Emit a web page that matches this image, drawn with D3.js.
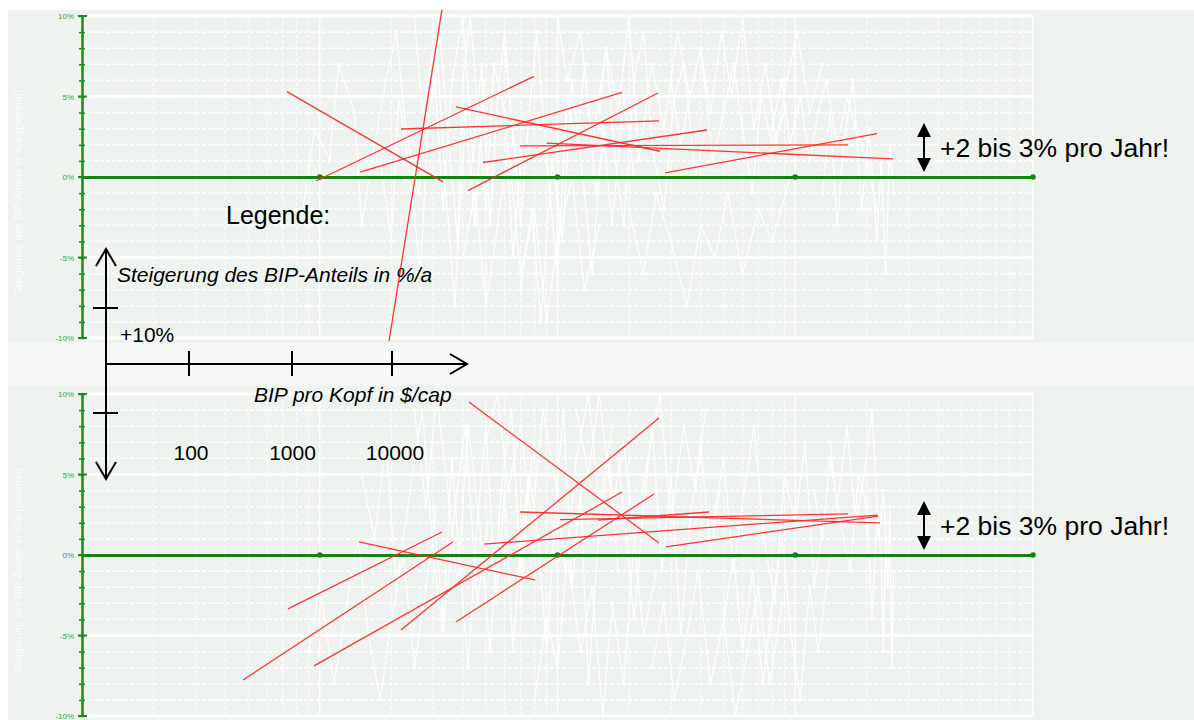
<!DOCTYPE html>
<html><head><meta charset="utf-8">
<script src="https://cdn.jsdelivr.net/npm/d3@7"></script>
<style>body{margin:0;background:#fff;} svg{display:block;font-family:Arial,"Liberation Sans",sans-serif;}</style>
</head><body><svg id="c" width="1194" height="720"></svg>
<script>
// ---------- data ----------
const xDecades = [10, 100, 1000, 10000, 100000];
const yTickValues = [-10, -5, 0, 5, 10];
const yTickLabels = ["-10%", "-5%", "0%", "5%", "10%"];
const axisTitle = "Steigerung des BIP-Anteils in %/a (gleitend)";

// red trend lines: [x1 ($/cap), y1 (%/a), x2, y2]
const topTrends = [
  [72.8, 5.3, 330, -0.3],
  [326.7, 10.4, 195.6, -10.2],
  [96.4, -0.25, 796, 6.25],
  [148, 0.3, 1868, 5.25],
  [219.7, 2.98, 2673, 3.48],
  [374, 4.35, 2698, 1.6],
  [420, -0.85, 2648, 5.22],
  [486, 0.9, 4254, 2.92],
  [695, 1.93, 16670, 2.0],
  [900, 2.1, 25780, 1.12],
  [2833, 0.25, 22070, 2.7]
];
const bottomTrends = [
  [424, 9.5, 2673, 0.75],
  [47.6, -7.76, 363, 0.81],
  [73.5, -3.35, 326.7, 1.43],
  [94.6, -6.89, 1868, 3.91],
  [146, 0.81, 804, -1.55],
  [219.7, -4.66, 2673, 8.51],
  [374, -4.16, 2546, 3.79],
  [491, 0.68, 22290, 2.48],
  [695, 2.67, 22740, 1.99],
  [1025, 2.2, 16670, 2.55],
  [1480, 2.17, 4336, 2.67],
  [2860, 0.5, 22290, 2.42]
];

// faint white yearly series (x in $/cap, y in %/a)
const topSeriesX = [
  [85,95,110,120,140,150,170,190,210,230,260,290],
  [300,320,350,380,400,430,470,500,540,600,650,700],
  [600,650,700,760,820,900,1000,1100,1200,1300,1450,1600],
  [1500,1600,1750,1900,2100,2300,2500,2800,3100,3400,3800,4200],
  [3000,3300,3600,4000,4500,5000,5500,6000,6600,7200,8000,9000],
  [8000,8800,9500,10500,11500,12500,13500,15000,16500,18000,20000,22000],
  [400,450,500,560,620,700,800,900,1000,1150,1300,1500],
  [2000,2300,2600,3000,3500,4000,4600,5200,6000,7000,8000,9500],
  [250,270,300,330,360,400,440,480,520,560,600,650],
  [180,200,215,240,265,285,310,340,370,410,450,490],
  [700,780,850,950,1050,1150,1300,1400,1550,1700,1900,2100],
  [4000,4400,4900,5400,6000,6700,7500,8300,9200,10200,11500,13000],
  [13000,14000,15000,16000,17500,19000,20500,22000,23000,24000,25000,26000],
  [1000,1100,1250,1400,1600,1800,2000,2200,2500,2800,3200,3600]
];
const topSeriesY = [
  [-2,3,1,7,4,-3,2,6,9,3,-1,4],
  [5,9,2,-4,6,10,3,-2,7,4,-5,1],
  [8,3,-3,4,9,1,-6,5,2,7,-1,3],
  [4,8,1,-3,6,9,2,-2,5,7,0,3],
  [6,2,5,8,1,4,7,3,-1,5,2,4],
  [3,6,2,5,1,4,6,2,5,3,1,-2],
  [-5,-1,-8,-3,2,-6,-2,-9,-4,0,-7,-3],
  [-2,-6,-1,-4,-8,-3,-5,-1,-6,-2,-4,0],
  [10,4,8,-2,6,10,1,7,-3,5,9,2],
  [1,-4,5,0,-6,3,8,-1,-8,4,-3,6],
  [-7,-2,-9,1,-4,6,-1,-6,3,-3,5,0],
  [8,4,9,5,10,3,7,2,6,9,4,7],
  [-1,4,-3,2,6,-2,3,-4,1,-6,2,-1],
  [10,6,9,2,8,4,10,1,7,3,9,5]
];
const bottomSeriesX = [
  [90,100,115,130,145,160,180,200,225,250,280,310],
  [300,330,360,390,420,460,500,550,600,650,700,760],
  [700,760,830,900,980,1060,1150,1250,1350,1500,1650,1800],
  [1800,1950,2100,2300,2500,2750,3000,3300,3600,4000,4400,4800],
  [4500,5000,5500,6100,6700,7400,8200,9000,10000,11000,12000,13500],
  [12000,13000,14000,15500,17000,18500,20000,21000,22000,23000,23500,24000],
  [500,560,620,700,780,870,970,1080,1200,1350,1500,1700],
  [2500,2800,3100,3500,3900,4400,5000,5600,6300,7000,7800,8800],
  [250,280,310,340,380,420,470,520,580,640,700,780],
  [150,170,190,210,240,270,300,330,370,410,460,510],
  [800,900,1000,1100,1250,1400,1550,1700,1900,2100,2300,2600],
  [5000,5500,6000,6600,7300,8000,8800,9600,10500,11500,12500,14000],
  [14000,15000,16500,18000,19500,21000,22500,23500,24500,25000,25500,26000],
  [1200,1350,1500,1700,1900,2100,2400,2700,3000,3400,3800,4200]
];
const bottomSeriesY = [
  [-6,-2,-8,-3,1,-5,-9,-4,0,-7,-2,3],
  [3,-4,6,-1,-7,2,8,-3,4,-6,1,5],
  [-3,5,1,-6,3,9,-2,4,-8,2,6,-1],
  [6,1,-4,3,8,-1,5,-5,2,7,0,4],
  [2,6,-1,4,8,1,-3,5,2,7,-2,3],
  [4,1,6,2,-1,5,3,-4,2,0,-6,1],
  [7,10,4,8,2,9,5,-1,6,10,3,8],
  [-7,-3,-9,-5,-1,-8,-4,-10,-6,-2,-8,-3],
  [9,3,10,5,-2,8,2,-6,4,9,-1,6],
  [5,1,7,-2,4,9,0,-5,3,8,-3,2],
  [-9,-4,-7,0,-6,-2,-10,-3,-8,1,-5,-1],
  [-4,0,-6,-1,-8,-3,1,-5,-9,-2,-6,0],
  [7,3,8,2,5,9,1,4,-2,3,-7,-1],
  [9,5,10,3,7,1,6,10,2,8,4,9]
];

// legend texts
const legendTitle = "Legende:";
const legendYLabel = "Steigerung des BIP-Anteils in %/a";
const legendYTick = "+10%";
const legendXLabel = "BIP pro Kopf in $/cap";
const legendXTicks = ["100", "1000", "10000"];
const noteText = "+2 bis 3% pro Jahr!";
const noteLevel = 1.8;

// ---------- drawing ----------
const svg = d3.select("#c");
const W = 1194, H = 720;
const x = d3.scaleLog().domain([10, 100000]).range([82, 1033]);
const panels = [
  {y: d3.scaleLinear().domain([-10, 10]).range([338, 16]), bg: [10, 343], trends: topTrends, sx: topSeriesX, sy: topSeriesY, titleY: 192},
  {y: d3.scaleLinear().domain([-10, 10]).range([716, 394]), bg: [386, 720], trends: bottomTrends, sx: bottomSeriesX, sy: bottomSeriesY, titleY: 570}
];

svg.append("rect").attr("x", 0).attr("y", 0).attr("width", W).attr("height", H).attr("fill", "#ffffff");
svg.append("rect").attr("x", 8).attr("y", 343).attr("width", W - 8).attr("height", 43).attr("fill", "#f5f8f6");

const minorX = [];
xDecades.slice(0, -1).forEach(d => { for (let k = 2; k <= 9; k++) minorX.push(d * k); });

panels.forEach(p => {
  const g = svg.append("g");
  g.append("rect").attr("x", 8).attr("y", p.bg[0]).attr("width", W - 8).attr("height", p.bg[1] - p.bg[0]).attr("fill", "#eef3ef");
  const [y0, y1] = p.y.range();
  // vertical grid
  g.selectAll(".vm").data(minorX).join("line")
    .attr("x1", d => x(d)).attr("x2", d => x(d)).attr("y1", y1).attr("y2", y0)
    .attr("stroke", "#ffffff").attr("stroke-width", 1).attr("stroke-dasharray", "4,2");
  g.selectAll(".vd").data(xDecades.slice(1)).join("line")
    .attr("x1", d => x(d)).attr("x2", d => x(d)).attr("y1", y1).attr("y2", y0)
    .attr("stroke", "#ffffff").attr("stroke-width", 1.5);
  // horizontal grid
  g.selectAll(".hg").data(d3.range(-10, 11)).join("line")
    .attr("x1", 82).attr("x2", 1033).attr("y1", d => p.y(d)).attr("y2", d => p.y(d))
    .attr("stroke", "#ffffff")
    .attr("stroke-width", d => d % 5 === 0 ? 3 : 1.6)
    .attr("stroke-dasharray", d => d % 5 === 0 ? null : "4,2");
  // faint axis title
  g.append("text").attr("transform", `translate(22,${p.titleY}) rotate(-90)`)
    .attr("text-anchor", "middle").attr("font-size", 10.5).attr("fill", "#ffffff").attr("opacity", 0.9)
    .text(axisTitle);
  // white yearly series
  const line = d3.line().x(d => x(d[0])).y(d => p.y(d[1]));
  p.sx.forEach((xs, i) => {
    const pts = xs.map((v, j) => [v, p.sy[i][j]]);
    g.append("path").attr("d", line(pts)).attr("fill", "none")
      .attr("stroke", "#ffffff").attr("stroke-width", 1.3).attr("opacity", 0.95);
    g.selectAll(null).data(pts).join("circle")
      .attr("cx", d => x(d[0])).attr("cy", d => p.y(d[1])).attr("r", 1.8)
      .attr("fill", "#ffffff").attr("opacity", 0.95);
  });
  // x axis (0%)
  const xa = g.append("g").attr("transform", `translate(0,${p.y(0)})`)
    .call(d3.axisBottom(x).tickValues(xDecades).tickSize(0).tickSizeOuter(0).tickFormat(""));
  xa.select(".domain").attr("stroke", "#148214").attr("stroke-width", 3);
  g.selectAll(".xt").data(xDecades.slice(1)).join("circle")
    .attr("cx", d => x(d)).attr("cy", p.y(0)).attr("r", 2.8).attr("fill", "#148214");
  // y axis
  const ya = g.append("g").attr("transform", "translate(82,0)")
    .call(d3.axisLeft(p.y).tickValues(d3.range(-10, 11)).tickSize(3).tickSizeOuter(0).tickFormat(""));
  ya.select(".domain").attr("stroke", "#1d8c1d").attr("stroke-width", 2.5);
  ya.selectAll(".tick line").attr("stroke", "#1d8c1d").attr("stroke-width", 1.5).attr("x2", 3).attr("x1", -3);
  g.selectAll(".ymaj").data(yTickValues).join("line")
    .attr("x1", 78).attr("x2", 87).attr("y1", d => p.y(d)).attr("y2", d => p.y(d))
    .attr("stroke", "#1d8c1d").attr("stroke-width", 2);
  g.selectAll(".ylab").data(yTickValues).join("text")
    .attr("x", 74).attr("y", d => p.y(d) + 3).attr("text-anchor", "end")
    .attr("font-size", 8).attr("fill", "#3aa63a").text((d, i) => yTickLabels[i]);
  // red trend lines
  g.selectAll(".tr").data(p.trends).join("line")
    .attr("x1", d => x(d[0])).attr("y1", d => p.y(d[1]))
    .attr("x2", d => x(d[2])).attr("y2", d => p.y(d[3]))
    .attr("stroke", "#ff2a2a").attr("stroke-width", 1.3).attr("opacity", 0.95);
  // note with double arrow
  const ny = p.y(noteLevel);
  const ng = g.append("g");
  ng.append("line").attr("x1", 924).attr("x2", 924).attr("y1", ny - 20).attr("y2", ny + 20)
    .attr("stroke", "#000").attr("stroke-width", 2);
  ng.append("path").attr("d", `M924,${ny - 25} L917,${ny - 11} L931,${ny - 11} Z`).attr("fill", "#000");
  ng.append("path").attr("d", `M924,${ny + 24} L917,${ny + 10} L931,${ny + 10} Z`).attr("fill", "#000");
  ng.append("text").attr("x", 940).attr("y", ny + 9).attr("font-size", 26.5).attr("fill", "#000").text(noteText);
});

// ---------- legend ----------
const L = svg.append("g").attr("stroke", "#000").attr("fill", "none").attr("stroke-width", 2);
L.append("line").attr("x1", 106).attr("x2", 106).attr("y1", 249).attr("y2", 479);
L.append("polyline").attr("points", "96,266 106,249 116,266");
L.append("polyline").attr("points", "96,462 106,479 116,462");
L.append("line").attr("x1", 93).attr("x2", 118).attr("y1", 308).attr("y2", 308);
L.append("line").attr("x1", 93).attr("x2", 118).attr("y1", 413).attr("y2", 413);
L.append("line").attr("x1", 106).attr("x2", 466).attr("y1", 364).attr("y2", 364);
L.append("polyline").attr("points", "450,354 467,364 450,374");
const legendTickX = [189, 292, 392];
L.selectAll(".lt").data(legendTickX).join("line")
  .attr("x1", d => d).attr("x2", d => d).attr("y1", 351).attr("y2", 376);

const T = svg.append("g").attr("fill", "#000");
T.append("text").attr("x", 226).attr("y", 224).attr("font-size", 25).text(legendTitle);
T.append("text").attr("x", 117).attr("y", 282).attr("font-size", 21).attr("font-style", "italic").text(legendYLabel);
T.append("text").attr("x", 120).attr("y", 342).attr("font-size", 21).text(legendYTick);
T.append("text").attr("x", 254).attr("y", 402).attr("font-size", 21).attr("font-style", "italic").text(legendXLabel);
T.selectAll(".ll").data(legendXTicks).join("text")
  .attr("x", (d, i) => [191, 292.5, 395][i]).attr("y", 460).attr("text-anchor", "middle")
  .attr("font-size", 21).text(d => d);
</script></body></html>
